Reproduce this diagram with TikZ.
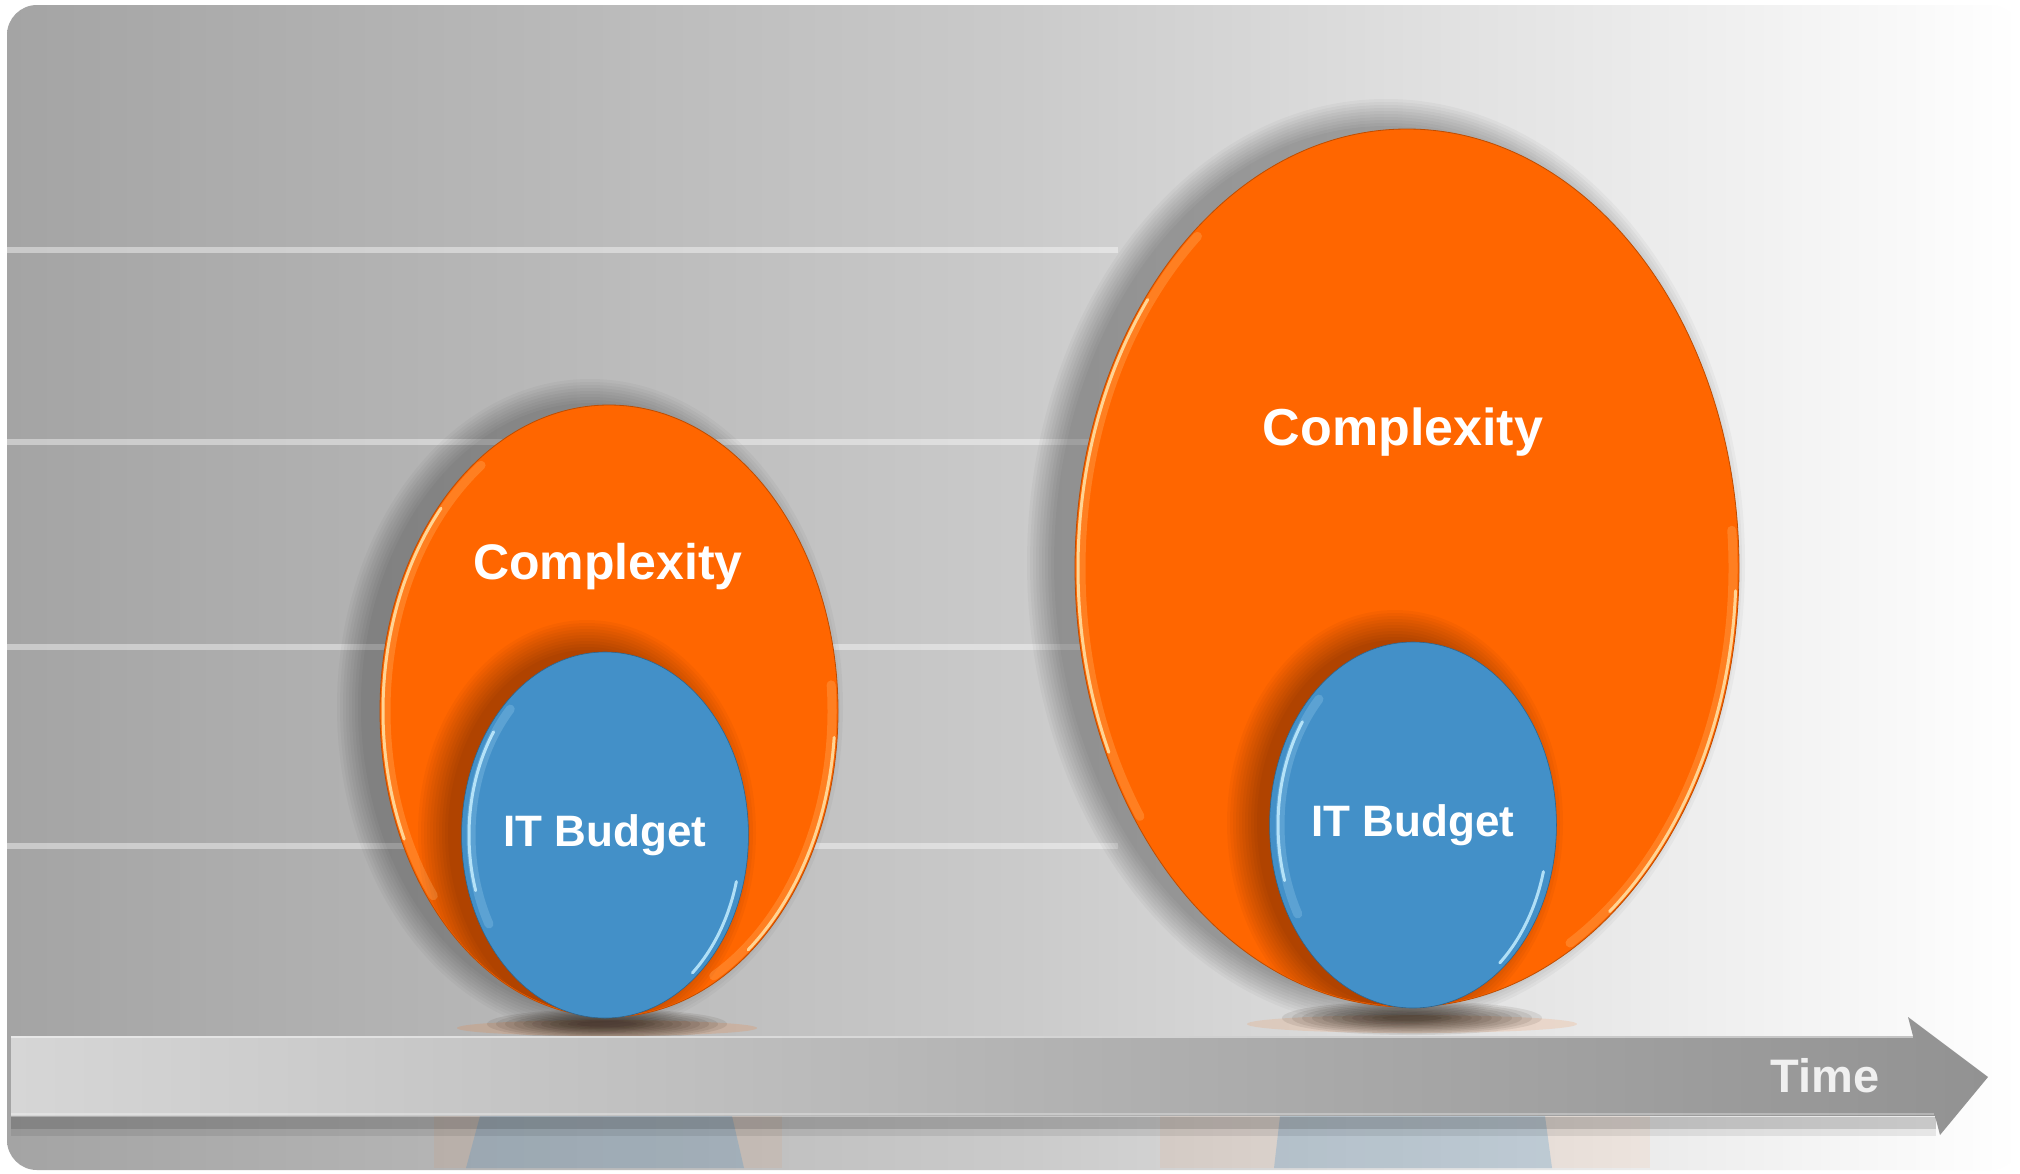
\documentclass[tikz,border=0pt]{standalone}
\usepackage{fontspec}
\setmainfont{Liberation Sans}
\usepackage{tikz}
\usetikzlibrary{shapes,arrows,positioning}
\definecolor{cplxOrange}{HTML}{FF6600}
\definecolor{budgetBlue}{HTML}{4390C8}
\definecolor{panelLeft}{HTML}{A4A4A4}
\definecolor{panelMid}{HTML}{CACACA}
\definecolor{barLeft}{HTML}{D6D6D6}
\definecolor{barRight}{HTML}{929292}
\definecolor{orangeRim}{HTML}{FFE3A8}
\definecolor{blueRim}{HTML}{C4EEFF}
\tikzset{
  cplxBubble/.style   = {shape=ellipse, fill=cplxOrange, draw=cplxOrange!75!black,
                         line width=0.8pt, inner sep=0pt, outer sep=0pt},
  budgetBubble/.style = {shape=ellipse, fill=budgetBlue, draw=budgetBlue!70!black,
                         line width=0.6pt, inner sep=0pt, outer sep=0pt,
                         minimum width=278pt, minimum height=366pt,
                         text=white, font=\bfseries\fontsize{44}{52}\selectfont},
  cplxLabel/.style    = {text=white, inner sep=0pt, font=\bfseries\fontsize{50}{60}\selectfont},
  gridline/.style     = {line width=6pt, white, opacity=0.42},
  rimGlow/.style      = {line width=9pt, opacity=0.2, line cap=round},
  rimLine/.style      = {line width=3pt, opacity=0.85, line cap=round},
  castShade/.style    = {fill=black, opacity=0.03},
  innerShade/.style   = {fill=black, opacity=0.03},
  contactShade/.style = {fill=black!80!brown, opacity=0.09},
  timeLabel/.style    = {text=black!6, inner sep=0pt, font=\bfseries\fontsize{47}{56}\selectfont}
}

\begin{document}
\begin{tikzpicture}[x=1pt,y=1pt]
	\useasboundingbox (0,0) rectangle (2020,-1173);
	\fill[white] (0,0) rectangle (2020,-1173);
	% Background panel
	\shade[left color=panelLeft, right color=white, middle color=panelMid, rounded corners=30pt] (7,-5) rectangle (2020,-1170);
	\draw[gridline] (7,-250) -- (1118,-250);
	\draw[gridline] (7,-442) -- (1118,-442);
	\draw[gridline] (7,-647) -- (1118,-647);
	\draw[gridline] (7,-846) -- (1118,-846);
	% Contact shadows on the time bar
	\fill[cplxOrange, opacity=0.15] (607,-1028) ellipse [x radius=150, y radius=8];
	\fill[cplxOrange, opacity=0.12] (1412,-1024) ellipse [x radius=165, y radius=9];
	\foreach \r in {0,...,10}
		\fill[contactShade] (607,-1024) ellipse [x radius=30+9*\r, y radius=3+1.2*\r];
	\foreach \r in {0,...,10}
		\fill[contactShade] (1412,-1018) ellipse [x radius=30+10*\r, y radius=3+1.4*\r];
	% Level 1: small bubbles
	\foreach \r in {0,3,...,24}
		\fill[castShade] (590,-707) ellipse [x radius=229+\r, y radius=304+\r];
	\node [cplxBubble, minimum width=458pt, minimum height=612pt] (smallCplx) at (609,-711) {};
	\begin{scope}
		\clip (smallCplx.center) ellipse [x radius=228, y radius=305];
		\foreach \r in {0,3,...,30}
			\fill[innerShade] (587,-833) ellipse [x radius=139+\r, y radius=183+\r];
	\end{scope}
	\draw[rimGlow, orangeRim] ([shift={(125:223 and 300)}]smallCplx.center) arc[start angle=125, end angle=218, x radius=223, y radius=300];
	\draw[rimLine, orangeRim] ([shift={(138:226 and 303)}]smallCplx.center) arc[start angle=138, end angle=205, x radius=226, y radius=303];
	\draw[rimGlow, orangeRim] ([shift={(5:223 and 300)}]smallCplx.center) arc[start angle=5, end angle=-62, x radius=223, y radius=300];
	\draw[rimLine, orangeRim] ([shift={(-5:226 and 303)}]smallCplx.center) arc[start angle=-5, end angle=-52, x radius=226, y radius=303];
	\node [cplxLabel] (smallCplxText) at (608,-567) {Complexity};
	\node [budgetBubble] (smallBudget) at (605,-835) {IT Budget};
	\draw[rimGlow, blueRim] ([shift={(135:134 and 178)}]smallBudget.center) arc[start angle=135, end angle=210, x radius=134, y radius=178];
	\draw[rimLine, blueRim] ([shift={(145:136 and 180)}]smallBudget.center) arc[start angle=145, end angle=198, x radius=136, y radius=180];
	\draw[rimLine, blueRim] ([shift={(-15:136 and 180)}]smallBudget.center) arc[start angle=-15, end angle=-50, x radius=136, y radius=180];
	% Level 2: big bubbles
	\foreach \r in {0,3,...,27}
		\fill[castShade] (1386,-563) ellipse [x radius=332+\r, y radius=437+\r];
	\node [cplxBubble, minimum width=664pt, minimum height=878pt] (bigCplx) at (1407,-568) {};
	\begin{scope}
		\clip (bigCplx.center) ellipse [x radius=331, y radius=438];
		\foreach \r in {0,3,...,30}
			\fill[innerShade] (1395,-823) ellipse [x radius=138+\r, y radius=183+\r];
	\end{scope}
	\draw[rimGlow, orangeRim] ([shift={(130:326 and 433)}]bigCplx.center) arc[start angle=130, end angle=215, x radius=326, y radius=433];
	\draw[rimLine, orangeRim] ([shift={(142:329 and 436)}]bigCplx.center) arc[start angle=142, end angle=205, x radius=329, y radius=436];
	\draw[rimGlow, orangeRim] ([shift={(5:326 and 433)}]bigCplx.center) arc[start angle=5, end angle=-60, x radius=326, y radius=433];
	\draw[rimLine, orangeRim] ([shift={(-3:329 and 436)}]bigCplx.center) arc[start angle=-3, end angle=-52, x radius=329, y radius=436];
	\node [cplxLabel, font=\bfseries\fontsize{52}{62}\selectfont] (bigCplxText) at (1403,-432) {Complexity};
	\node [budgetBubble] (bigBudget) at (1413,-825) {IT Budget};
	\draw[rimGlow, blueRim] ([shift={(135:133 and 178)}]bigBudget.center) arc[start angle=135, end angle=210, x radius=133, y radius=178];
	\draw[rimLine, blueRim] ([shift={(145:135 and 180)}]bigBudget.center) arc[start angle=145, end angle=198, x radius=135, y radius=180];
	\draw[rimLine, blueRim] ([shift={(-15:135 and 180)}]bigBudget.center) arc[start angle=-15, end angle=-50, x radius=135, y radius=180];
	% Time bar
	\fill[cplxOrange, opacity=0.06] (434,-1116) rectangle (782,-1168);
	\fill[budgetBlue, opacity=0.25] (480,-1116) -- (732,-1116) -- (744,-1168) -- (466,-1168) -- cycle;
	\fill[cplxOrange, opacity=0.06] (1160,-1116) rectangle (1650,-1168);
	\fill[budgetBlue, opacity=0.25] (1280,-1116) -- (1545,-1116) -- (1552,-1168) -- (1274,-1168) -- cycle;
	\shade[left color=barLeft, right color=barRight] (11,-1036) -- (1913,-1036) -- (1908,-1017) -- (1988,-1077) -- (1940,-1135) -- (1935,-1116) -- (11,-1116) -- cycle;
	\draw[white, opacity=0.45, line width=2pt] (11,-1037) -- (1913,-1037);
	\draw[white, opacity=0.3, line width=2pt] (11,-1114) -- (1934,-1114);
	\fill[black, opacity=0.2] (11,-1117) rectangle (1936,-1129);
	\fill[black, opacity=0.08] (11,-1129) rectangle (1936,-1136);
	\node [timeLabel] (timeText) at (1825,-1076) {Time};
\end{tikzpicture}
\end{document}
